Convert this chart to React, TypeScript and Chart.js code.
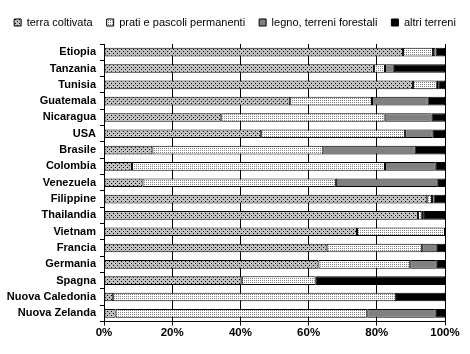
import React, { useEffect, useRef } from 'react';
import { Chart, registerables } from 'chart.js';

Chart.register(...registerables);

const countries = [
  'Etiopia', 'Tanzania', 'Tunisia', 'Guatemala', 'Nicaragua', 'USA', 'Brasile',
  'Colombia', 'Venezuela', 'Filippine', 'Thailandia', 'Vietnam', 'Francia',
  'Germania', 'Spagna', 'Nuova Caledonia', 'Nuova Zelanda',
];
const seriesNames = ['terra coltivata', 'prati e pascoli permanenti', 'legno, terreni forestali', 'altri terreni'];
const terraColtivata = [87.7, 79.2, 90.6, 54.6, 34.4, 46.1, 14.2, 8.2, 11.3, 94.8, 92.1, 74.2, 65.3, 62.9, 40.4, 2.7, 3.4];
const pratiPascoli = [8.8, 3.2, 7.0, 24.0, 47.9, 42.2, 50.1, 74.2, 56.7, 1.4, 1.1, 25.8, 28.0, 26.9, 21.7, 82.9, 73.8];
const legnoForestali = [0.7, 2.6, 0.4, 16.3, 13.8, 8.1, 26.8, 14.9, 29.9, 0.4, 0.6, 0, 4.3, 7.8, 0, 0, 20.1];
const altriTerreni = [2.8, 15.0, 2.0, 5.1, 3.9, 3.6, 8.9, 2.7, 2.1, 3.4, 6.2, 0, 2.4, 2.4, 37.9, 14.4, 2.7];
const xTickValues = [0, 20, 40, 60, 80, 100];

const FONT = '"Liberation Sans", Arial, sans-serif';

function makePattern(
  ctx: CanvasRenderingContext2D,
  size: number,
  bg: string,
  fg: string,
  dots: Array<[number, number]>
): CanvasPattern | string {
  const c = document.createElement('canvas');
  c.width = size;
  c.height = size;
  const t = c.getContext('2d');
  if (!t) return bg;
  t.fillStyle = bg;
  t.fillRect(0, 0, size, size);
  t.fillStyle = fg;
  dots.forEach(([x, y]) => t.fillRect(x, y, 1, 1));
  return ctx.createPattern(c, 'repeat') || bg;
}

export default function App() {
  const canvasRef = useRef<HTMLCanvasElement | null>(null);

  useEffect(() => {
    const canvas = canvasRef.current;
    if (!canvas) return;
    const ctx = canvas.getContext('2d');
    if (!ctx) return;

    const terraPattern = makePattern(ctx, 4, '#c0c0c0', '#000000', [[1, 1], [3, 3]]);
    const pratiPattern = makePattern(ctx, 2, '#ffffff', '#808080', [[0, 0]]);

    const seriesData = [terraColtivata, pratiPascoli, legnoForestali, altriTerreni];
    const fills = [terraPattern, pratiPattern, '#808080', '#000000'];

    const legendHeight = {
      id: 'legendHeight',
      beforeInit(chart: any) {
        const orig = chart.legend.fit;
        chart.legend.fit = function fit() {
          orig.bind(chart.legend)();
          this.height = 41;
        };
      },
    };

    const chart = new Chart(canvas, {
      type: 'bar',
      data: {
        labels: countries,
        datasets: seriesNames.map((name, i) => ({
          label: name,
          data: seriesData[i],
          backgroundColor: fills[i] as any,
          borderColor: '#000000',
          borderWidth: 1,
          borderSkipped: false,
          barPercentage: 0.53,
          categoryPercentage: 1,
        })),
      },
      options: {
        indexAxis: 'y',
        animation: false,
        responsive: true,
        maintainAspectRatio: false,
        events: [],
        layout: { padding: { top: 3, right: 0, bottom: 0, left: 0 } },
        plugins: {
          legend: {
            position: 'top',
            labels: {
              boxWidth: 7,
              boxHeight: 7,
              padding: 14,
              color: '#000000',
              font: { family: FONT, size: 11 },
            },
          },
          tooltip: { enabled: false },
        },
        scales: {
          x: {
            type: 'linear',
            stacked: true,
            min: 0,
            max: 100,
            afterBuildTicks: (scale: any) => {
              scale.ticks = xTickValues.map((v) => ({ value: v }));
            },
            ticks: {
              color: '#000000',
              padding: 0,
              font: { family: FONT, size: 11.5, weight: 'bold' },
              callback: (v: any) => `${v}%`,
            },
            grid: {
              color: '#000000',
              lineWidth: 1,
              drawTicks: true,
              tickLength: 4,
              tickColor: '#000000',
            },
            border: { display: true, color: '#000000', width: 1 },
            afterFit: (scale: any) => {
              scale.height = 32.5;
              scale.paddingRight = 25;
            },
          },
          y: {
            type: 'category',
            stacked: true,
            ticks: {
              color: '#000000',
              padding: 4,
              autoSkip: false,
              font: { family: FONT, size: 11, weight: 'bold' },
            },
            grid: {
              display: true,
              drawOnChartArea: false,
              drawTicks: true,
              tickLength: 4,
              tickColor: '#000000',
              offset: true,
            },
            border: { display: true, color: '#000000', width: 1 },
            afterFit: (scale: any) => {
              scale.width = 104;
            },
          },
        },
      },
      plugins: [legendHeight],
    });

    return () => {
      chart.destroy();
    };
  }, []);

  return (
    <div style={{ position: 'fixed', left: 0, top: 0, width: 470, height: 354, background: '#ffffff' }}>
      <canvas ref={canvasRef} />
    </div>
  );
}
